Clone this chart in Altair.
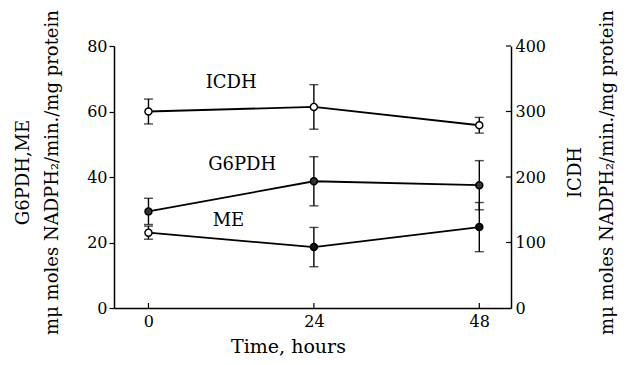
import altair as alt
import pandas as pd

FONT = "DejaVu Serif"

hours = [0, 24, 48]
icdh = [300, 307, 279]
icdh_err = [19, 34, 12]
g6pdh = [29.5, 38.7, 37.5]
g6pdh_err = [4, 7.5, 7.5]
me = [23, 18.6, 24.7]
me_err = [2, 6, 7.5]
x_ticks = [0, 24, 48]
left_ticks = [0, 20, 40, 60, 80]
right_ticks = [0, 100, 200, 300, 400]
labels = ["ICDH", "G6PDH", "ME"]
label_x = [12, 13.6, 11.6]
label_y = [68.7, 43.6, 26.5]  # in left-axis units

W, H = 397, 262

left_df = pd.DataFrame({
    "series": ["G6PDH"] * 3 + ["ME"] * 3,
    "hours": hours + hours,
    "value": g6pdh + me,
    "err": g6pdh_err + me_err,
    "fill": ["#333333"] * 3 + ["#ffffff", "#111111", "#111111"],
})
left_df["lo"] = left_df["value"] - left_df["err"]
left_df["hi"] = left_df["value"] + left_df["err"]

right_df = pd.DataFrame({"series": ["ICDH"] * 3, "hours": hours, "value": icdh, "err": icdh_err})
right_df["lo"] = right_df["value"] - right_df["err"]
right_df["hi"] = right_df["value"] + right_df["err"]

lab_df = pd.DataFrame({"label": labels, "hours": label_x, "value": label_y})
xt_df = pd.DataFrame({"hours": x_ticks})
rt_df = pd.DataFrame({"value": right_ticks[1:]})

xaxis = alt.Axis(values=x_ticks, title="Time, hours", ticks=False, labelPadding=5,
                 labelFontSize=16, titleFontSize=19, titleX=174, titleY=44, titleBaseline="alphabetic")
xenc = alt.X("hours:Q", scale=alt.Scale(domain=[-5, 52.6], nice=False, zero=False), axis=xaxis)

laxis = alt.Axis(values=left_ticks, orient="left", title=["G6PDH,ME", "mμ moles NADPH₂/min./mg protein"],
                 titleLineHeight=29, titleX=-86, titleY=126, titleAngle=270, titleBaseline="alphabetic",
                 tickSize=5, labelPadding=2, labelFontSize=16, titleFontSize=18)
lscale = alt.Scale(domain=[0, 80], nice=False)

def ly(field):
    return alt.Y(field, scale=lscale, axis=laxis)

raxis = alt.Axis(values=right_ticks, orient="right", title=["ICDH", "mμ moles NADPH₂/min./mg protein"],
                 titleLineHeight=32, titleX=69, titleY=126, titleAngle=270, titleBaseline="alphabetic",
                 ticks=False, labelPadding=4, labelFontSize=16, titleFontSize=18)
rscale = alt.Scale(domain=[0, 400], nice=False)

def ry(field):
    return alt.Y(field, scale=rscale, axis=raxis)

LW = 1.8
EW = 1.4

lb = alt.Chart(left_df)
left_layer = alt.layer(
    lb.mark_line(color="black", strokeWidth=LW).encode(x=xenc, y=ly("value:Q"), detail="series:N"),
    lb.mark_rule(color="black", strokeWidth=EW).encode(x=xenc, y=ly("lo:Q"), y2="hi:Q"),
    lb.mark_tick(orient="horizontal", size=9, thickness=EW, color="black").encode(x=xenc, y=ly("lo:Q")),
    lb.mark_tick(orient="horizontal", size=9, thickness=EW, color="black").encode(x=xenc, y=ly("hi:Q")),
    lb.mark_point(shape="circle", size=50, strokeWidth=1.4, color="black", fillOpacity=1, opacity=1).encode(
        x=xenc, y=ly("value:Q"), fill=alt.Fill("fill:N", scale=None)),
    alt.Chart(lab_df).mark_text(font=FONT, fontSize=18, color="black").encode(x=xenc, y=ly("value:Q"), text="label:N"),
    alt.Chart(xt_df).mark_rule(color="black", strokeWidth=1.2).encode(x=xenc, y=alt.value(H), y2=alt.value(H - 5)),
)

rb = alt.Chart(right_df)
right_layer = alt.layer(
    rb.mark_line(color="black", strokeWidth=LW).encode(x=xenc, y=ry("value:Q")),
    rb.mark_rule(color="black", strokeWidth=EW).encode(x=xenc, y=ry("lo:Q"), y2="hi:Q"),
    rb.mark_tick(orient="horizontal", size=9, thickness=EW, color="black").encode(x=xenc, y=ry("lo:Q")),
    rb.mark_tick(orient="horizontal", size=9, thickness=EW, color="black").encode(x=xenc, y=ry("hi:Q")),
    rb.mark_point(shape="circle", size=50, strokeWidth=1.4, color="black", fill="white", fillOpacity=1, opacity=1).encode(
        x=xenc, y=ry("value:Q")),
    alt.Chart(rt_df).mark_rule(color="black", strokeWidth=1.2).encode(y=ry("value:Q"), x=alt.value(W - 5), x2=alt.value(W)),
)

chart = alt.layer(left_layer, right_layer).resolve_scale(y="independent").properties(
    width=W, height=H,
    autosize=alt.AutoSizeParams(type="none"),
    padding={"left": 106, "top": 38, "right": 107, "bottom": 48},
    background="white",
).configure_view(stroke=None).configure_axis(
    grid=False, domainColor="black", domainWidth=1.5, tickColor="black", tickWidth=1.2,
    labelColor="black", titleColor="black", labelFont=FONT, titleFont=FONT, titleFontWeight="normal",
)

chart.save("out.html", embed_options={"renderer": "svg", "actions": False})
